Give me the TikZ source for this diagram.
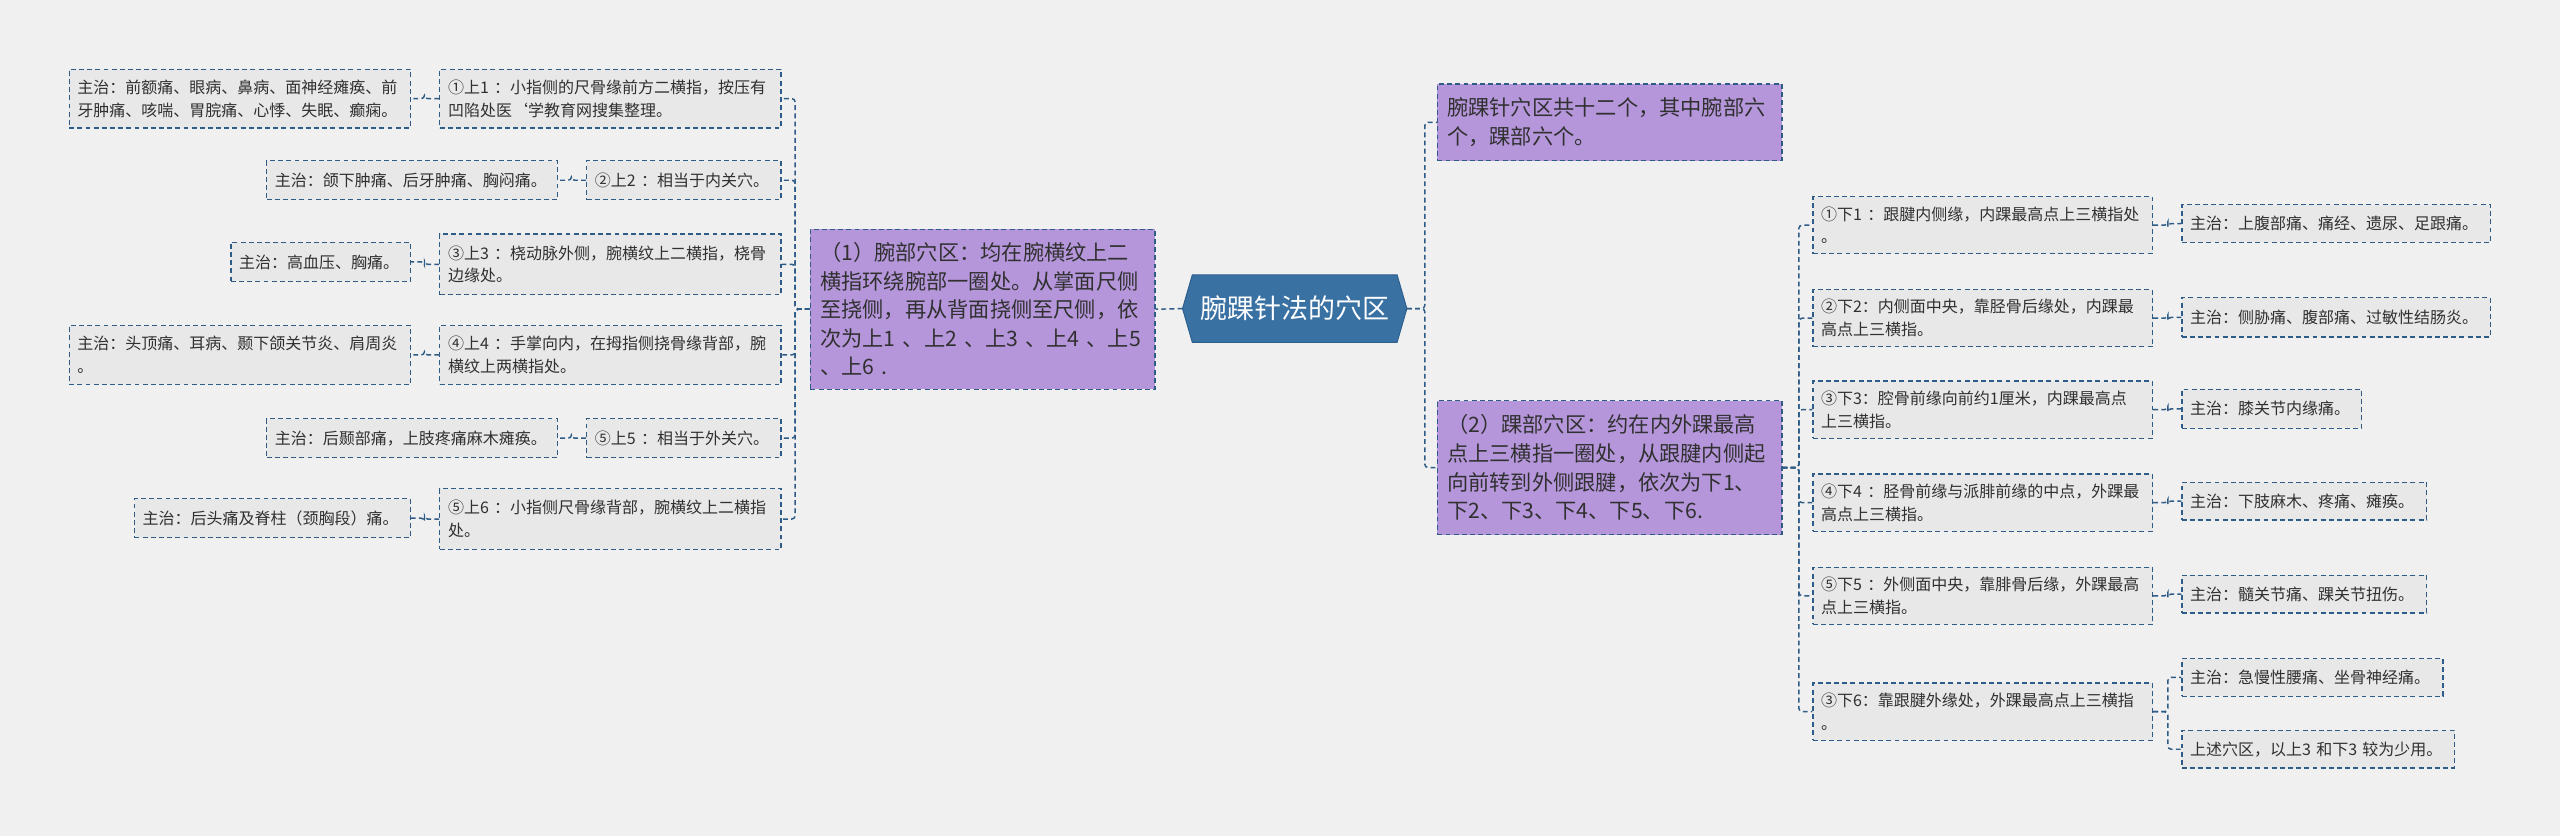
\documentclass[tikz,border=0pt]{standalone}
\usepackage{fontspec}
\setmainfont{Noto Sans CJK SC}
\usetikzlibrary{calc}
\definecolor{bg}{HTML}{F0F0F0}
\definecolor{linec}{HTML}{2E5C86}
\definecolor{boxfill}{HTML}{E8E8E8}
\definecolor{purp}{HTML}{B596DA}
\definecolor{rootc}{HTML}{3A71A3}
\definecolor{rootline}{HTML}{2D5F8E}
\definecolor{txt}{HTML}{303030}
\tikzset{
  leaf/.style={draw=linec, line width=0.8pt, dash pattern=on 3pt off 2pt, fill=boxfill, text=txt,
    font=\fontsize{9.8}{14}\selectfont, align=left, inner xsep=5pt, inner ysep=1pt, anchor=north west},
  purpbox/.style={leaf, fill=purp, text=txt, font=\fontsize{13}{17.5}\selectfont, inner xsep=6pt},
  rootbox/.style={draw=none, text=white, font=\fontsize{16.5}{20}\selectfont, minimum width=137pt, minimum height=41pt, inner sep=0pt},
  conn/.style={draw=linec, line width=0.9pt, dash pattern=on 3pt off 2pt, rounded corners=2pt},
}
\begin{document}
\begin{tikzpicture}[x=1pt,y=-1pt]
\useasboundingbox (0,0) rectangle (1568,512);
\fill[bg] (0,0) rectangle (1568,512);

% left side
\node[leaf, text width=199pt, minimum height=36pt] (A1) at (42,42) {主治：前额痛、眼病、鼻病、面神经瘫痪、前\\牙肿痛、咳喘、胃脘痛、心悸、失眠、癫痫。};
\node[leaf, text width=199pt, minimum height=36pt] (L1) at (269,42) {①上1~：小指侧的尺骨缘前方二横指，按压有\\凹陷处医\symbol{"60}学教育网搜集整理。};
\node[leaf, text width=168pt, minimum height=24pt] (A2) at (163,98) {主治：颌下肿痛、后牙肿痛、胸闷痛。};
\node[leaf, text width=109pt, minimum height=24pt] (L2) at (359,98) {②上2~：相当于内关穴。};
\node[leaf, text width=100pt, minimum height=24pt] (A3) at (141,148) {主治：高血压、胸痛。};
\node[leaf, text width=199pt, minimum height=37pt] (L3) at (269,143) {③上3~：桡动脉外侧，腕横纹上二横指，桡骨\\边缘处。};
\node[leaf, text width=199pt, minimum height=36pt] (A4) at (42,199) {主治：头顶痛、耳病、颞下颌关节炎、肩周炎\\。};
\node[leaf, text width=199pt, minimum height=36pt] (L4) at (269,199) {④上4~：手掌向内，在拇指侧挠骨缘背部，腕\\横纹上两横指处。};
\node[leaf, text width=168pt, minimum height=24pt] (A5) at (163,256) {主治：后颞部痛，上肢疼痛麻木瘫痪。};
\node[leaf, text width=109pt, minimum height=24pt] (L5) at (359,256) {⑤上5~：相当于外关穴。};
\node[leaf, text width=159pt, minimum height=24pt] (A6) at (82,305) {主治：后头痛及脊柱（颈胸段）痛。};
\node[leaf, text width=199pt, minimum height=37pt] (L6) at (269,299) {⑤上6~：小指侧尺骨缘背部，腕横纹上二横指\\处。};

\node[purpbox, text width=199pt, minimum height=98pt] (W) at (496,140) {（1）腕部穴区：均在腕横纹上二\\横指环绕腕部一圈处。从掌面尺侧\\至挠侧，再从背面挠侧至尺侧，依\\次为上1~、上2~、上3~、上4~、上5\\、上6~.};

% root
\node[rootbox] (root) at (793,189) {};
\filldraw[fill=rootc, draw=rootline, line width=0.6pt]
  (root.west) -- ($(root.north west)+(6,0)$) -- ($(root.north east)+(-6,0)$) -- (root.east)
  -- ($(root.south east)+(-6,0)$) -- ($(root.south west)+(6,0)$) -- cycle;
\node[rootbox] (roottext) at (root.center) {腕踝针法的穴区};

% right side
\node[purpbox, text width=199pt, minimum height=47pt] (P1) at (880,51) {腕踝针穴区共十二个，其中腕部六\\个，踝部六个。};
\node[purpbox, text width=199pt, minimum height=82pt] (P2) at (880,245) {（2）踝部穴区：约在内外踝最高\\点上三横指一圈处，从跟腱内侧起\\向前转到外侧跟腱，依次为下1、\\下2、下3、下4、下5、下6.};

\node[leaf, text width=198pt, minimum height=35pt] (R1) at (1110,120) {①下1~：跟腱内侧缘，内踝最高点上三横指处\\。};
\node[leaf, text width=198pt, minimum height=35pt] (R2) at (1110,177) {②下2：内侧面中央，靠胫骨后缘处，内踝最\\高点上三横指。};
\node[leaf, text width=198pt, minimum height=35pt] (R3) at (1110,233) {③下3：腔骨前缘向前约1厘米，内踝最高点\\上三横指。};
\node[leaf, text width=198pt, minimum height=35pt] (R4) at (1110,290) {④下4~：胫骨前缘与派腓前缘的中点，外踝最\\高点上三横指。};
\node[leaf, text width=198pt, minimum height=35pt] (R5) at (1110,347) {⑤下5~：外侧面中央，靠腓骨后缘，外踝最高\\点上三横指。};
\node[leaf, text width=198pt, minimum height=35pt] (R6) at (1110,418) {③下6：靠跟腱外缘处，外踝最高点上三横指\\。};

\node[leaf, text width=179pt, minimum height=23pt] (S1) at (1336,125) {主治：上腹部痛、痛经、遗尿、足跟痛。};
\node[leaf, text width=179pt, minimum height=24pt] (S2) at (1336,182) {主治：侧胁痛、腹部痛、过敏性结肠炎。};
\node[leaf, text width=100pt, minimum height=24pt] (S3) at (1336,238) {主治：膝关节内缘痛。};
\node[leaf, text width=140pt, minimum height=23pt] (S4) at (1336,295) {主治：下肢麻木、疼痛、瘫痪。};
\node[leaf, text width=140pt, minimum height=23pt] (S5) at (1336,352) {主治：髓关节痛、踝关节扭伤。};
\node[leaf, text width=150pt, minimum height=23pt] (S6a) at (1336,403) {主治：急慢性腰痛、坐骨神经痛。};
\node[leaf, text width=157pt, minimum height=23pt] (S6b) at (1336,447) {上述穴区，以上3~和下3~较为少用。};

% connectors
\draw[conn] (root.west) -- (W.east);
\foreach \n in {L1,L2,L3,L4,L5,L6} { \draw[conn] (W.west) -- ++(-9,0) |- (\n.east); }
\draw[conn] (L1.west) -- ++(-9,0) |- (A1.east);
\draw[conn] (L2.west) -- ++(-9,0) |- (A2.east);
\draw[conn] (L3.west) -- ++(-9,0) |- (A3.east);
\draw[conn] (L4.west) -- ++(-9,0) |- (A4.east);
\draw[conn] (L5.west) -- ++(-9,0) |- (A5.east);
\draw[conn] (L6.west) -- ++(-9,0) |- (A6.east);

\draw[conn] (root.east) -- ++(11,0) |- (P1.west);
\draw[conn] (root.east) -- ++(11,0) |- (P2.west);
\foreach \n in {R1,R2,R3,R4,R5,R6} { \draw[conn] (P2.east) -- ++(10,0) |- (\n.west); }
\draw[conn] (R1.east) -- ++(9,0) |- (S1.west);
\draw[conn] (R2.east) -- ++(9,0) |- (S2.west);
\draw[conn] (R3.east) -- ++(9,0) |- (S3.west);
\draw[conn] (R4.east) -- ++(9,0) |- (S4.west);
\draw[conn] (R5.east) -- ++(9,0) |- (S5.west);
\draw[conn] (R6.east) -- ++(9,0) |- (S6a.west);
\draw[conn] (R6.east) -- ++(9,0) |- (S6b.west);
\end{tikzpicture}
\end{document}
